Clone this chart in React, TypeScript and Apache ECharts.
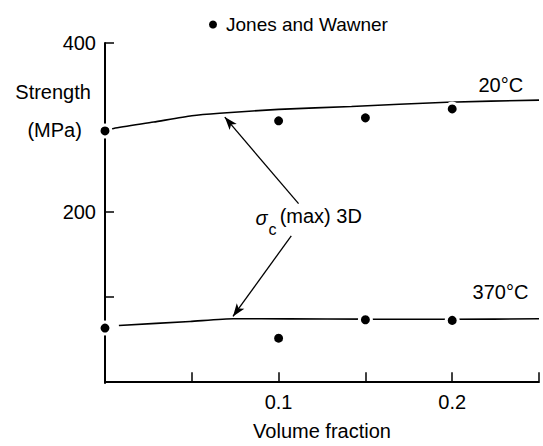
import React, { useEffect, useRef } from "react";
import * as echarts from "echarts";

const FONT = "'Liberation Sans', Arial, Helvetica, sans-serif";

// Jones and Wawner experimental points
const jonesX = [0, 0.1, 0.15, 0.2];
const jones20 = [296, 308, 311.5, 322];
const jones370 = [63, 51, 72.8, 72];

// sigma_c(max) 3D prediction curves
const curve20X = [0, 0.005, 0.028, 0.05, 0.066, 0.1, 0.142, 0.197, 0.25];
const curve20Y = [296, 299, 306.5, 314, 317, 321.5, 325, 330, 332.5];
const curve370X = [0.008, 0.049, 0.074, 0.106, 0.15, 0.2, 0.25];
const curve370Y = [66, 70.8, 74, 73.8, 73.5, 73.3, 74];

// axis ticks and labels
const xTicks = [0.05, 0.1, 0.15, 0.2, 0.25];
const xLabels = [0.1, 0.2];
const yTicks = [100, 200, 400];
const yLabels = [200, 400];

// arrows [tailX, tailY, tipX, tipY]
const arrows = [
  [0.1115, 210, 0.069, 312.4],
  [0.1073, 172, 0.0737, 76.7],
];

export default function App() {
  const ref = useRef<HTMLDivElement>(null);
  useEffect(() => {
    const chart = echarts.init(ref.current!, null, { renderer: "svg" });
    const pts = (xs: number[], ys: number[]) => xs.map((x, i) => [x, ys[i]]);
    const scatterData = [...pts(jonesX, jones20), ...pts(jonesX, jones370)];
    chart.setOption({
      animation: false,
      backgroundColor: "#fff",
      textStyle: { fontFamily: FONT },
      grid: { left: 105, right: 4, top: 43, bottom: 59, containLabel: false },
      legend: {
        data: ["Jones and Wawner"],
        left: 204,
        top: 10,
        icon: "circle",
        itemWidth: 16,
        itemHeight: 8,
        selectedMode: false,
        itemStyle: { borderWidth: 0, color: "#000" },
        textStyle: { fontSize: 19, color: "#000", fontFamily: FONT },
      },
      xAxis: {
        type: "value",
        min: 0,
        max: 0.25,
        splitLine: { show: false },
        axisLine: { lineStyle: { color: "#000", width: 2 } },
        axisTick: {
          inside: true,
          length: 9,
          lineStyle: { color: "#000", width: 1.5 },
          customValues: xTicks,
        },
        axisLabel: {
          customValues: xLabels,
          fontSize: 20,
          color: "#000",
          margin: 9,
          fontFamily: FONT,
          formatter: (v: number) => String(v),
        },
        name: "Volume fraction",
        nameLocation: "middle",
        nameGap: 38,
        nameTextStyle: { fontSize: 20, color: "#000", fontFamily: FONT },
      },
      yAxis: {
        type: "value",
        min: -2,
        max: 400,
        splitLine: { show: false },
        axisLine: { lineStyle: { color: "#000", width: 2 } },
        axisTick: {
          inside: true,
          length: 9,
          lineStyle: { color: "#000", width: 1.5 },
          customValues: yTicks,
        },
        axisLabel: {
          customValues: yLabels,
          fontSize: 20,
          color: "#000",
          margin: 9,
          fontFamily: FONT,
        },
      },
      series: [
        {
          type: "line",
          name: "20°C",
          data: pts(curve20X, curve20Y),
          showSymbol: false,
          symbol: "none",
          smooth: 0.2,
          lineStyle: { color: "#000", width: 1.6 },
          z: 2,
          markLine: {
            silent: true,
            symbol: ["none", "arrow"],
            symbolSize: [7, 13],
            label: { show: false },
            lineStyle: { color: "#000", width: 1.3, type: "solid" },
            data: arrows.map((a) => [
              { coord: [a[0], a[1]] },
              { coord: [a[2], a[3]] },
            ]),
          },
        },
        {
          type: "line",
          name: "370°C",
          data: pts(curve370X, curve370Y),
          showSymbol: false,
          symbol: "none",
          smooth: 0.2,
          lineStyle: { color: "#000", width: 1.6 },
          z: 2,
        },
        {
          type: "scatter",
          name: "Jones and Wawner",
          data: scatterData,
          symbol: "circle",
          symbolSize: 12,
          itemStyle: { color: "#000", borderColor: "#fff", borderWidth: 3, opacity: 1 },
          z: 5,
        },
      ],
    });

    const px = (x: number, y: number) =>
      chart.convertToPixel({ gridIndex: 0 }, [x, y]) as number[];
    const txt = (
      x: number,
      y: number,
      text: string,
      size: number,
      align: string,
      extra: any = {}
    ) => {
      const p = px(x, y);
      return {
        type: "text",
        x: p[0],
        y: p[1],
        style: {
          text,
          fontSize: size,
          fontFamily: FONT,
          fill: "#000",
          align,
          verticalAlign: "middle",
          ...extra,
        },
        z: 10,
      };
    };
    chart.setOption({
      graphic: [
        txt(0.228, 350.5, "20°C", 20, "center"),
        txt(0.2278, 106, "370°C", 20, "center"),
        txt(-0.0299, 342.3, "Strength", 20, "center"),
        txt(-0.029, 296.7, "(MPa)", 20, "center"),
        txt(0.0902, 193.3, "σ", 20, "center", { fontStyle: "italic" }),
        txt(0.0965, 179.3, "c", 16, "center"),
        txt(0.1006, 195.6, "(max) 3D", 20, "left"),
      ],
    });
    return () => chart.dispose();
  }, []);
  return (
    <div
      ref={ref}
      style={{ position: "fixed", left: 0, top: 0, width: 543, height: 446 }}
    />
  );
}
